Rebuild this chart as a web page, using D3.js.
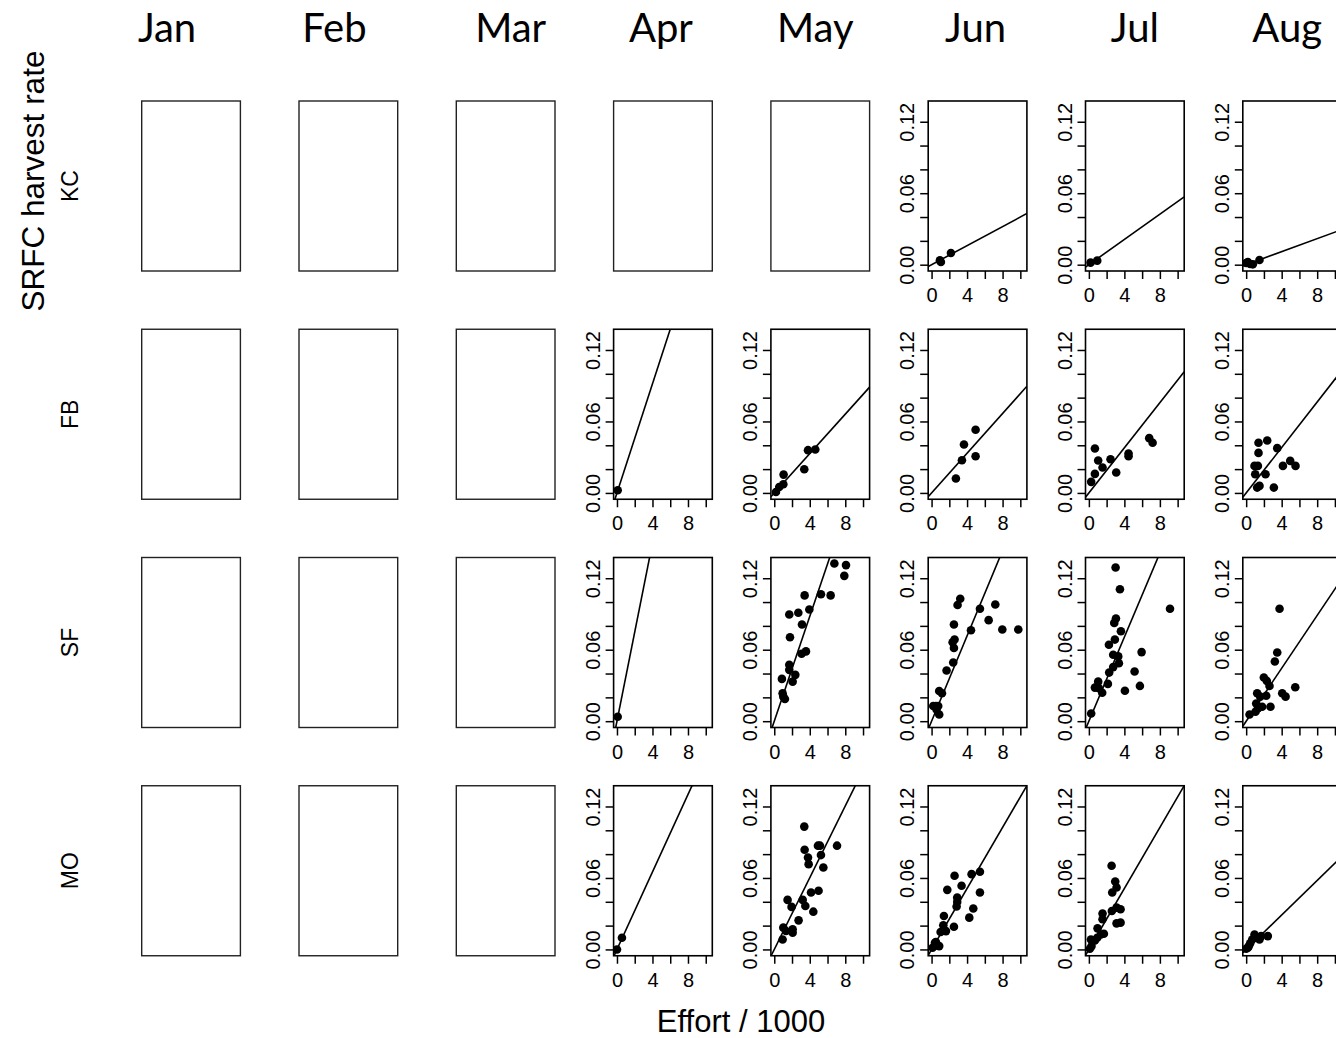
<!DOCTYPE html>
<html>
<head>
<meta charset="utf-8">
<script src="https://cdn.jsdelivr.net/npm/d3@7"></script>
<style>
  html, body { margin: 0; padding: 0; background: #fff; }
  svg { display: block; }
</style>
</head>
<body>
<svg id="chart" width="1336" height="1038"></svg>
<script>
// Months (columns) and fishery regions (rows)
const months = ["Jan", "Feb", "Mar", "Apr", "May", "Jun", "Jul", "Aug"];
const regions = ["KC", "FB", "SF", "MO"];

// Axis ticks
const effortTicks = [0, 2, 4, 6, 8, 10];
const effortTickLabels = [0, 4, 8];
const rateTicks = [0, 0.02, 0.04, 0.06, 0.08, 0.10, 0.12];
const rateTickLabels = [0, 0.06, 0.12];

// Observations: [effort / 1000, harvest rate]
const kcJun = [[0.94, 0.0036], [1.05, 0.0022], [2.18, 0.0098]];
const kcJul = [[0.19, 0.0017], [0.94, 0.0034]];
const kcAug = [[0.0, 0.0014], [0.19, 0.0022], [0.45, 0.0006], [0.75, 0.0003], [1.5, 0.0039]];

const fbApr = [[0.08, 0.0022]];
const fbMay = [[0.19, 0.0008], [0.56, 0.005], [1.02, 0.0073], [1.05, 0.0154], [3.38, 0.0199], [3.8, 0.0359], [4.62, 0.0364]];
const fbJun = [[2.74, 0.0121], [3.65, 0.0407], [3.42, 0.0275], [4.96, 0.053], [4.96, 0.0308]];
const fbJul = [[0.26, 0.0093], [0.68, 0.016], [0.68, 0.0373], [1.05, 0.0272], [1.54, 0.0213], [2.44, 0.0283],
               [3.08, 0.0171], [4.47, 0.0331], [4.47, 0.0308], [6.8, 0.046], [7.18, 0.0421]];
const fbAug = [[0.94, 0.0227], [1.32, 0.0227], [1.02, 0.0157], [1.39, 0.0336], [1.39, 0.0421], [1.24, 0.0045],
               [1.5, 0.0059], [2.18, 0.0157], [2.37, 0.044], [3.12, 0.0045], [3.5, 0.0376], [4.14, 0.0227],
               [4.96, 0.0269], [5.56, 0.0227]];

const sfApr = [[0.08, 0.0037]];
const sfMay = [[0.86, 0.0355], [0.94, 0.0234], [1.02, 0.0206], [1.2, 0.0186], [1.69, 0.0896], [1.77, 0.0704],
               [1.69, 0.0473], [1.69, 0.0431], [2.07, 0.0332], [2.37, 0.0389], [2.71, 0.091], [3.12, 0.0811],
               [3.08, 0.0566], [3.57, 0.0586], [3.42, 0.1056], [3.95, 0.0938], [5.26, 0.1065], [6.35, 0.1056],
               [6.77, 0.1324], [8.08, 0.131], [7.89, 0.122]];
const sfJun = [[0.19, 0.0127], [0.49, 0.0127], [0.75, 0.0127], [0.86, 0.0056], [0.56, 0.0099], [0.86, 0.0254],
               [1.17, 0.0234], [1.69, 0.0425], [2.44, 0.0493], [2.52, 0.0614], [2.37, 0.0662], [2.59, 0.0685],
               [2.52, 0.0811], [2.93, 0.0975], [3.23, 0.1028], [4.44, 0.0763], [5.45, 0.0944], [6.43, 0.0848],
               [7.18, 0.098], [7.97, 0.0769], [9.77, 0.0769]];
const sfJul = [[0.26, 0.0065], [0.68, 0.0282], [1.05, 0.0332], [1.13, 0.0276], [1.5, 0.0239], [2.14, 0.0313],
               [2.29, 0.0408], [2.26, 0.0642], [2.74, 0.0454], [2.74, 0.0558], [2.93, 0.0685], [2.86, 0.0825],
               [3.05, 0.0862], [3.31, 0.0544], [3.38, 0.0487], [3.01, 0.129], [3.5, 0.1107], [3.61, 0.0755],
               [4.06, 0.0256], [5.15, 0.0417], [5.75, 0.0296], [5.94, 0.058], [9.14, 0.0944]];
const sfAug = [[0.38, 0.0056], [1.05, 0.0079], [1.32, 0.0107], [1.13, 0.0149], [1.24, 0.0234], [1.8, 0.0121],
               [1.58, 0.0206], [2.26, 0.0214], [1.99, 0.0366], [2.33, 0.0338], [2.74, 0.0121], [2.63, 0.0296],
               [3.23, 0.0501], [3.5, 0.0577], [3.76, 0.0944], [4.06, 0.0234], [4.44, 0.0206], [5.53, 0.0285]];

const moApr = [[0.0, 0.0], [0.56, 0.0098]];
const moMay = [[0.94, 0.0084], [1.02, 0.0183], [1.32, 0.0155], [1.5, 0.0416], [2.07, 0.0169], [2.07, 0.014],
               [1.95, 0.0357], [2.74, 0.0244], [3.2, 0.0416], [3.5, 0.0365], [3.38, 0.1031], [3.42, 0.0837],
               [3.8, 0.0772], [3.87, 0.0716], [4.14, 0.0478], [4.4, 0.0317], [4.92, 0.0871], [5.15, 0.0871],
               [4.99, 0.0492], [5.26, 0.0792], [5.53, 0.0688], [7.07, 0.0871]];
const moJun = [[0.11, 0.0014], [0.38, 0.0056], [0.64, 0.0034], [0.86, 0.0028], [0.49, 0.0062], [1.02, 0.0146],
               [1.32, 0.0202], [1.39, 0.0281], [1.62, 0.0154], [1.77, 0.05], [2.52, 0.0191], [2.59, 0.0618],
               [2.82, 0.036], [2.89, 0.0435], [2.89, 0.0399], [3.38, 0.0534], [4.25, 0.0267], [4.7, 0.0343],
               [4.51, 0.0632], [5.45, 0.0478], [5.45, 0.0652]];
const moJul = [[0.11, 0.0006], [0.3, 0.0028], [0.23, 0.0084], [0.68, 0.0076], [0.94, 0.0098], [0.98, 0.0177],
               [1.35, 0.0126], [1.54, 0.0253], [1.69, 0.0132], [1.54, 0.0301], [2.56, 0.0702], [2.63, 0.0478],
               [2.97, 0.057], [3.12, 0.052], [2.59, 0.0323], [3.12, 0.0351], [3.57, 0.0337], [3.12, 0.0219],
               [3.57, 0.0225]];
const moAug = [[0.0, 0.0006], [0.19, 0.0014], [0.3, 0.0028], [0.45, 0.0051], [0.68, 0.0084], [0.94, 0.0126],
               [1.13, 0.0098], [1.5, 0.0084], [1.69, 0.0112], [2.44, 0.0112]];

// Fitted slopes of harvest rate on effort (line through the origin)
const slopesKC = { Jun: 0.0040, Jul: 0.0053, Aug: 0.00273 };
const slopesFB = { Apr: 0.0229, May: 0.00827, Jun: 0.00834, Jul: 0.00947, Aug: 0.00954 };
const slopesSF = { Apr: 0.0374, May: 0.0220, Jun: 0.0179, Jul: 0.01765, Aug: 0.0111 };
const slopesMO = { Apr: 0.01626, May: 0.01506, Jun: 0.0128, Jul: 0.0128, Aug: 0.00724 };

// Panels with data, keyed by region then month
const panels = {
  KC: { Jun: kcJun, Jul: kcJul, Aug: kcAug },
  FB: { Apr: fbApr, May: fbMay, Jun: fbJun, Jul: fbJul, Aug: fbAug },
  SF: { Apr: sfApr, May: sfMay, Jun: sfJun, Jul: sfJul, Aug: sfAug },
  MO: { Apr: moApr, May: moMay, Jun: moJun, Jul: moJul, Aug: moAug }
};
const slopes = { KC: slopesKC, FB: slopesFB, SF: slopesSF, MO: slopesMO };

// ---- layout ----
const layout = {
  left0: 141.7, colStep: 157.3, panelW: 98.7,
  top0: 101, rowStep: 228.25, panelH: 170,
  tickLen: 8
};
const titleShift = [-24, -14, 5, -2, -5, -2, 0, -5];

const svg = d3.select("#chart");
const axisFont = "'Liberation Sans', Arial, Helvetica, sans-serif";

const xDomain = [-0.38, 10.74];
const yDomain = [-0.0053, 0.1374];

// Month titles
svg.selectAll("text.month")
  .data(months)
  .join("text")
  .attr("class", "month")
  .attr("x", (d, i) => layout.left0 + i * layout.colStep + layout.panelW / 2 + titleShift[i])
  .attr("y", 42)
  .attr("text-anchor", "middle")
  .style("font-family", "Lato, 'Open Sans', sans-serif")
  .style("font-size", "40px")
  .attr("fill", "#000")
  .text(d => d);

// Overall y title
svg.append("text")
  .attr("transform", "translate(44,181) rotate(-90)")
  .attr("text-anchor", "middle")
  .style("font-family", axisFont)
  .style("font-size", "31.5px")
  .text("SRFC harvest rate");

// Row labels
svg.selectAll("text.region")
  .data(regions)
  .join("text")
  .attr("class", "region")
  .attr("transform", (d, i) => `translate(78,${layout.top0 + i * layout.rowStep + layout.panelH / 2}) rotate(-90)`)
  .attr("text-anchor", "middle")
  .style("font-family", axisFont)
  .style("font-size", "23px")
  .text(d => d);

// Overall x title
svg.append("text")
  .attr("x", 741)
  .attr("y", 1032)
  .attr("text-anchor", "middle")
  .style("font-family", axisFont)
  .style("font-size", "31px")
  .text("Effort / 1000");

const defs = svg.append("defs");

regions.forEach((region, ri) => {
  months.forEach((month, ci) => {
    const x0 = layout.left0 + ci * layout.colStep;
    const y0 = layout.top0 + ri * layout.rowStep;
    const g = svg.append("g");
    const pts = panels[region][month];

    if (pts) {
      const x = d3.scaleLinear().domain(xDomain).range([x0, x0 + layout.panelW]);
      const y = d3.scaleLinear().domain(yDomain).range([y0 + layout.panelH, y0]);

      const clipId = `clip-${region}-${month}`;
      defs.append("clipPath").attr("id", clipId)
        .append("rect")
        .attr("x", x0).attr("y", y0)
        .attr("width", layout.panelW).attr("height", layout.panelH);

      // x axis on the bottom edge
      const xAxis = d3.axisBottom(x)
        .tickValues(effortTicks)
        .tickSize(layout.tickLen)
        .tickPadding(9)
        .tickFormat(d => effortTickLabels.includes(d) ? d3.format("d")(d) : "");
      const gx = g.append("g")
        .attr("transform", `translate(0,${y0 + layout.panelH})`)
        .call(xAxis);
      gx.select(".domain").remove();
      gx.selectAll("line").attr("stroke", "#000").attr("stroke-width", 1.5);
      gx.selectAll("text")
        .style("font-family", axisFont)
        .style("font-size", "20px")
        .attr("fill", "#000");

      // y axis on the left edge, labels rotated
      const yAxis = d3.axisLeft(y)
        .tickValues(rateTicks)
        .tickSize(layout.tickLen)
        .tickFormat(d => rateTickLabels.some(v => Math.abs(v - d) < 1e-9) ? d3.format(".2f")(d) : "");
      const gy = g.append("g")
        .attr("transform", `translate(${x0},0)`)
        .call(yAxis);
      gy.select(".domain").remove();
      gy.selectAll("line").attr("stroke", "#000").attr("stroke-width", 1.5);
      gy.selectAll("text")
        .attr("x", null).attr("dy", null)
        .attr("text-anchor", "middle")
        .attr("transform", "translate(-14,0) rotate(-90)")
        .style("font-family", axisFont)
        .style("font-size", "20px")
        .attr("fill", "#000");

      const plot = g.append("g").attr("clip-path", `url(#${clipId})`);

      // regression line through the origin
      const b = slopes[region][month];
      plot.append("line")
        .attr("x1", x(xDomain[0])).attr("y1", y(b * xDomain[0]))
        .attr("x2", x(xDomain[1])).attr("y2", y(b * xDomain[1]))
        .attr("stroke", "#000")
        .attr("stroke-width", 1.6);

      // observations
      plot.selectAll("circle")
        .data(pts)
        .join("circle")
        .attr("cx", d => x(d[0]))
        .attr("cy", d => y(d[1]))
        .attr("r", 4.3)
        .attr("fill", "#000");
    }

    // panel frame
    g.append("rect")
      .attr("x", x0).attr("y", y0)
      .attr("width", layout.panelW).attr("height", layout.panelH)
      .attr("fill", "none")
      .attr("stroke", pts ? "#000" : "#222")
      .attr("stroke-width", pts ? 1.6 : 1.4);
  });
});
</script>
</body>
</html>
